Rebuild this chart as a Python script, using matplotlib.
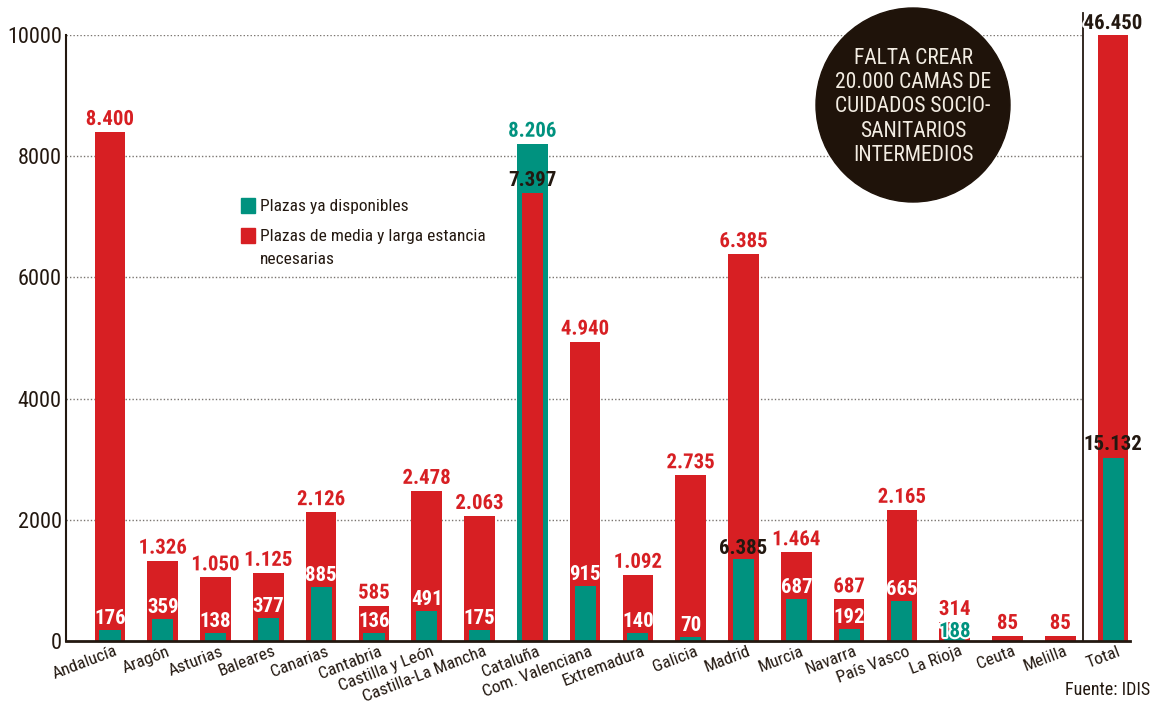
import matplotlib
matplotlib.use('Agg')
import matplotlib.pyplot as plt
from matplotlib import font_manager as fm
from matplotlib.patches import Ellipse
import matplotlib.patheffects as pe

# --- datos ---
regiones = ['Andalucía', 'Aragón', 'Asturias', 'Baleares', 'Canarias', 'Cantabria',
            'Castilla y León', 'Castilla-La Mancha', 'Cataluña', 'Com. Valenciana',
            'Extremadura', 'Galicia', 'Madrid', 'Murcia', 'Navarra', 'País Vasco',
            'La Rioja', 'Ceuta', 'Melilla']
necesarias = [8400, 1326, 1050, 1125, 2126, 585, 2478, 2063, 7397, 4940,
              1092, 2735, 6385, 1464, 687, 2165, 314, 85, 85]
disponibles = [176, 359, 138, 377, 885, 136, 491, 175, 8206, 915,
               140, 70, 1350, 687, 192, 665, 188, 0, 0]
# en el original la etiqueta de Madrid no coincide con la barra
etiqueta_fija = {'Madrid': '6.385'}

total_necesarias = 46450
total_disponibles = 15132
escala_total = 5      # la barra verde del total va a 1/5 en el original

ROJO = '#d71f23'
VERDE = '#00927f'
OSCURO = '#231810'
YMAX = 10000


# --- fuente estrecha si hay alguna instalada ---
def fuente_estrecha(negrita):
    preferidas = ['Roboto', 'Roboto Condensed', 'Liberation Sans Narrow', 'Noto Sans',
                  'Open Sans', 'DejaVu Sans', 'DejaVu Sans Condensed']
    cands = []
    for f in fm.fontManager.ttflist:
        estrecha = f.stretch in ('condensed', 'semi-condensed', 'extra-condensed') or \
            'Narrow' in f.name or 'Condensed' in f.name
        if not estrecha or f.style != 'normal':
            continue
        w = f.weight if isinstance(f.weight, int) else (700 if 'bold' in str(f.weight) else 400)
        if negrita and w < 600:
            continue
        if not negrita and w not in (400, 'normal', 'regular'):
            continue
        rango = preferidas.index(f.name) if f.name in preferidas else 99
        cands.append((rango, f.fname))
    if cands:
        return fm.FontProperties(fname=sorted(cands)[0][1])
    return fm.FontProperties(family='Liberation Sans',
                             weight='bold' if negrita else 'normal')


F_REG = fuente_estrecha(False)
F_BOLD = fuente_estrecha(True)


def fp(base, size):
    p = base.copy()
    p.set_size(size)
    return p


def fmt(v):
    return f'{v:,}'.replace(',', '.')


fig = plt.figure(figsize=(11.56, 7.04), dpi=100)
ax = fig.add_axes([66 / 1156, 63 / 704, 1064 / 1156, 606 / 704])
XMIN, XMAX = -0.833, 19.32
ax.set_xlim(XMIN, XMAX)
ax.set_ylim(0, YMAX)

ANCHO = 0.58
ESTRECHO = 0.40
SEP = 18.43

# rejilla punteada
for y in range(2000, YMAX + 1, 2000):
    ax.plot([XMIN, SEP], [y, y], ls=(0, (1, 1.5)), color='#7a7570', lw=1, zorder=0)

halo = [pe.withStroke(linewidth=3, foreground='white')]
TAM = 15


def etiqueta(x, y, txt, color, off=7, efecto=True):
    ax.annotate(txt, (x, y), xytext=(0, off), textcoords='offset pixels',
                ha='center', va='baseline', fontproperties=fp(F_BOLD, TAM),
                color=color, path_effects=halo if efecto else None,
                annotation_clip=False, zorder=5)


for i, (reg, n, d) in enumerate(zip(regiones, necesarias, disponibles)):
    if d > n:
        # Cataluña: la barra ancha es la verde
        ax.bar(i, d, width=ANCHO, color=VERDE, zorder=2)
        ax.bar(i, n, width=ESTRECHO, color=ROJO, zorder=3)
        etiqueta(i, d, fmt(d), VERDE)
        etiqueta(i, n, fmt(n), OSCURO, efecto=False)
        continue
    ax.bar(i, n, width=ANCHO, color=ROJO, zorder=2)
    etiqueta(i, n, fmt(n), ROJO)
    if d > 0:
        ax.bar(i, d, width=ESTRECHO, color=VERDE, zorder=3)
        if reg in etiqueta_fija:
            etiqueta(i, d, etiqueta_fija[reg], OSCURO, off=5, efecto=False)
        elif reg == 'La Rioja':
            ax.text(i, 0, fmt(d), ha='center', va='bottom', fontproperties=fp(F_BOLD, TAM),
                    color=VERDE, path_effects=halo, zorder=5)
        else:
            etiqueta(i, d, fmt(d), 'white', off=6, efecto=False)

# total
it = len(regiones)
ax.bar(it, min(total_necesarias, YMAX), width=ANCHO, color=ROJO, zorder=2)
ax.bar(it, total_disponibles / escala_total, width=ESTRECHO, color=VERDE, zorder=3)
etiqueta(it, YMAX, fmt(total_necesarias), OSCURO, off=6)
etiqueta(it, total_disponibles / escala_total, fmt(total_disponibles), OSCURO, off=8,
         efecto=False)
ax.plot([SEP, SEP], [0, 10360], color=OSCURO, lw=1.3, clip_on=False, zorder=4)

# ejes
for s in ['top', 'right']:
    ax.spines[s].set_visible(False)
ax.spines['left'].set_color(OSCURO)
ax.spines['left'].set_linewidth(1.5)
ax.spines['bottom'].set_color(OSCURO)
ax.spines['bottom'].set_linewidth(2)
ax.spines['bottom'].set_zorder(6)
ax.set_yticks(range(0, YMAX + 1, 2000))
ax.set_yticklabels([str(v) for v in range(0, YMAX + 1, 2000)], color=OSCURO)
for t in ax.get_yticklabels():
    t.set_fontproperties(fp(F_REG, 16))
ax.tick_params(axis='y', length=0, pad=3)
ax.set_xticks([])

for i, reg in enumerate(regiones + ['Total']):
    ax.text(i + 0.08, -45, reg, rotation=21, rotation_mode='anchor', ha='right', va='top',
            fontproperties=fp(F_REG, 12.5), color=OSCURO, clip_on=False)

# leyenda
ax_px = lambda px, py: (px / 1156, 1 - py / 704)
fig.patches.append(plt.Rectangle(ax_px(241, 213), 14 / 1156, 15 / 704, color=VERDE,
                                 transform=fig.transFigure))
fig.patches.append(plt.Rectangle(ax_px(241, 243), 14 / 1156, 15 / 704, color=ROJO,
                                 transform=fig.transFigure))
fig.text(*ax_px(260, 206), 'Plazas ya disponibles', fontproperties=fp(F_REG, 12.5),
         color=OSCURO, va='center')
fig.text(*ax_px(260, 236), 'Plazas de media y larga estancia', fontproperties=fp(F_REG, 12.5),
         color=OSCURO, va='center')
fig.text(*ax_px(260, 259), 'necesarias', fontproperties=fp(F_REG, 12.5), color=OSCURO,
         va='center')

# circulo
fig.patches.append(Ellipse(ax_px(913, 105), 194 / 1156, 194 / 704, color='#1f130a',
                           transform=fig.transFigure, zorder=10))
fig.text(*ax_px(913, 107), 'FALTA CREAR\n20.000 CAMAS DE\nCUIDADOS SOCIO-\nSANITARIOS\nINTERMEDIOS',
         ha='center', va='center', fontproperties=fp(F_REG, 15.5), color='#f3ede3',
         linespacing=1.2, zorder=11)

fig.text(*ax_px(1150, 690), 'Fuente: IDIS', ha='right', va='center',
         fontproperties=fp(F_REG, 13), color=OSCURO)

fig.savefig('out.png', dpi=100)
